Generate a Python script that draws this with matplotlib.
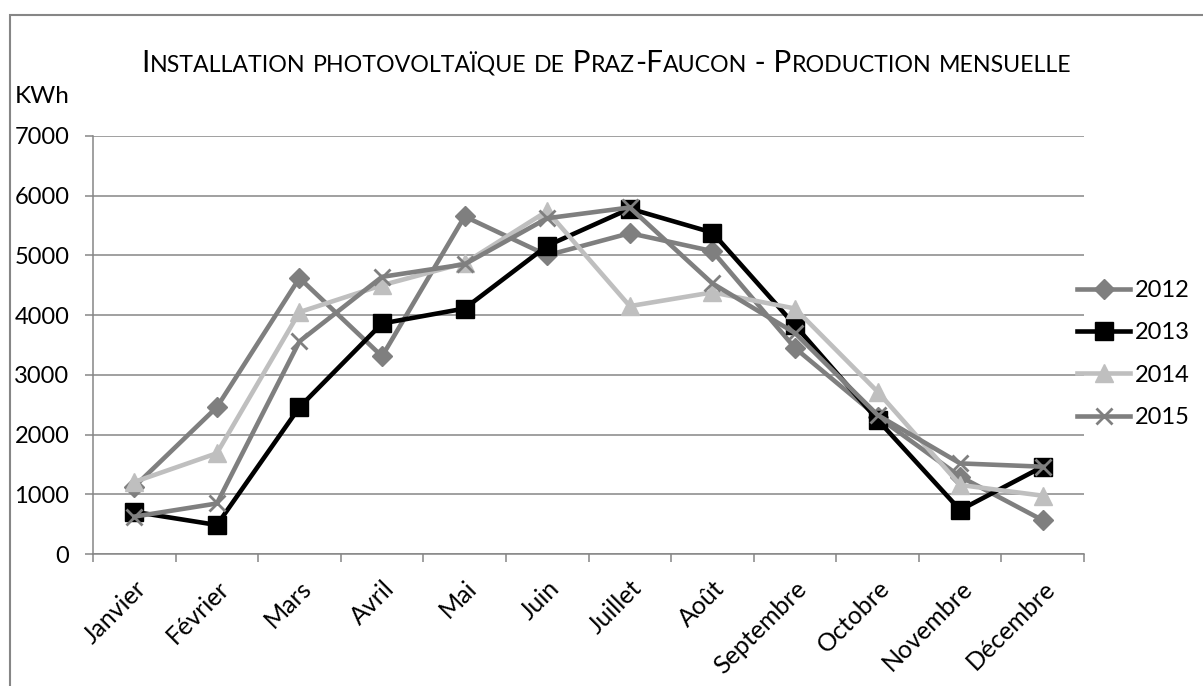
import matplotlib
matplotlib.use("Agg")
import matplotlib.pyplot as plt
from matplotlib.patches import Rectangle

plt.rcParams['font.family'] = ['Lato', 'DejaVu Sans']

months = ["Janvier", "Février", "Mars", "Avril", "Mai", "Juin", "Juillet",
          "Août", "Septembre", "Octobre", "Novembre", "Décembre"]
years = ["2012", "2013", "2014", "2015"]
prod_2012 = [1130, 2460, 4620, 3310, 5650, 5000, 5370, 5070, 3450, 2300, 1300, 570]
prod_2013 = [710, 490, 2460, 3860, 4110, 5160, 5780, 5380, 3830, 2250, 740, 1465]
prod_2014 = [1210, 1690, 4050, 4500, 4870, 5740, 4150, 4380, 4110, 2720, 1160, 980]
prod_2015 = [630, 850, 3560, 4640, 4850, 5620, 5800, 4530, 3700, 2330, 1520, 1465]
title = "Installation photovoltaïque de Praz-Faucon - Production mensuelle"

W, H = 1203, 686
fig = plt.figure(figsize=(W / 100, H / 100), dpi=100)
ax = fig.add_axes([93 / W, 1 - 554.3 / H, (1084 - 93) / W, (554.3 - 135.7) / H])

styles = [
    dict(color="#7f7f7f", marker="D", ms=10, mec="#7f7f7f"),
    dict(color="black", marker="s", ms=13, mec="black"),
    dict(color="#bfbfbf", marker="^", ms=13, mec="#bfbfbf"),
    dict(color="#7f7f7f", marker="x", ms=12, mew=2, mec="#7f7f7f"),
]
series = [prod_2012, prod_2013, prod_2014, prod_2015]
x = list(range(len(months)))
for yr, vals, st in zip(years, series, styles):
    ax.plot(x, vals, lw=3.3, label=yr, solid_joinstyle="round", **st)

ax.set_xlim(-0.5, 11.5)
ax.set_ylim(0, 7000)
ax.set_yticks(range(0, 7001, 1000))
ax.grid(axis="y", color="#868686", lw=1.1)
ax.set_axisbelow(True)
for s in ["top", "right"]:
    ax.spines[s].set_visible(False)
for s in ["left", "bottom"]:
    ax.spines[s].set_color("#868686")
    ax.spines[s].set_linewidth(1.1)

ax.set_xticks(x)
ax.set_xticks([i - 0.5 for i in range(13)], minor=True)
ax.set_xticklabels(months, rotation=45, ha="right", rotation_mode="anchor",
                   fontsize=18)
ax.tick_params(axis="x", which="major", length=0, pad=16)
ax.tick_params(axis="x", which="minor", length=6, color="#868686", width=1.1)
ax.tick_params(axis="y", length=6, color="#868686", width=1.1, labelsize=17, pad=11)

fig.text(15 / W, 1 - 103 / H, "KWh", fontsize=17.5, ha="left", va="baseline")

fig.legend(loc="center left", bbox_to_anchor=(1077 / W, 1 - 354 / H),
           frameon=False, fontsize=17, borderpad=0, borderaxespad=0,
           handlelength=2.25, handletextpad=0.2, labelspacing=0.9)

# small caps title built piece by piece
pieces = []
for ch in title:
    small = ch.islower()
    txt = ch.upper()
    if pieces and pieces[-1][1] == small:
        pieces[-1][0] += txt
    else:
        pieces.append([txt, small])
texts = []
for txt, small in pieces:
    t = fig.text(0, 1 - 72 / H, txt, fontsize=16.7 if small else 21.4,
                 ha="left", va="baseline")
    texts.append(t)
fig.canvas.draw()
r = fig.canvas.get_renderer()
widths = [t.get_window_extent(r).width for t in texts]
xpos = 606.5 - sum(widths) / 2
for t, w in zip(texts, widths):
    t.set_x(xpos / W)
    xpos += w

fig.patches.append(Rectangle((10 / W, -0.1), 1.2, 1.1 - 15 / H, transform=fig.transFigure,
                             fill=False, edgecolor="#868686", lw=1.5))

fig.savefig("out.png", dpi=100)
